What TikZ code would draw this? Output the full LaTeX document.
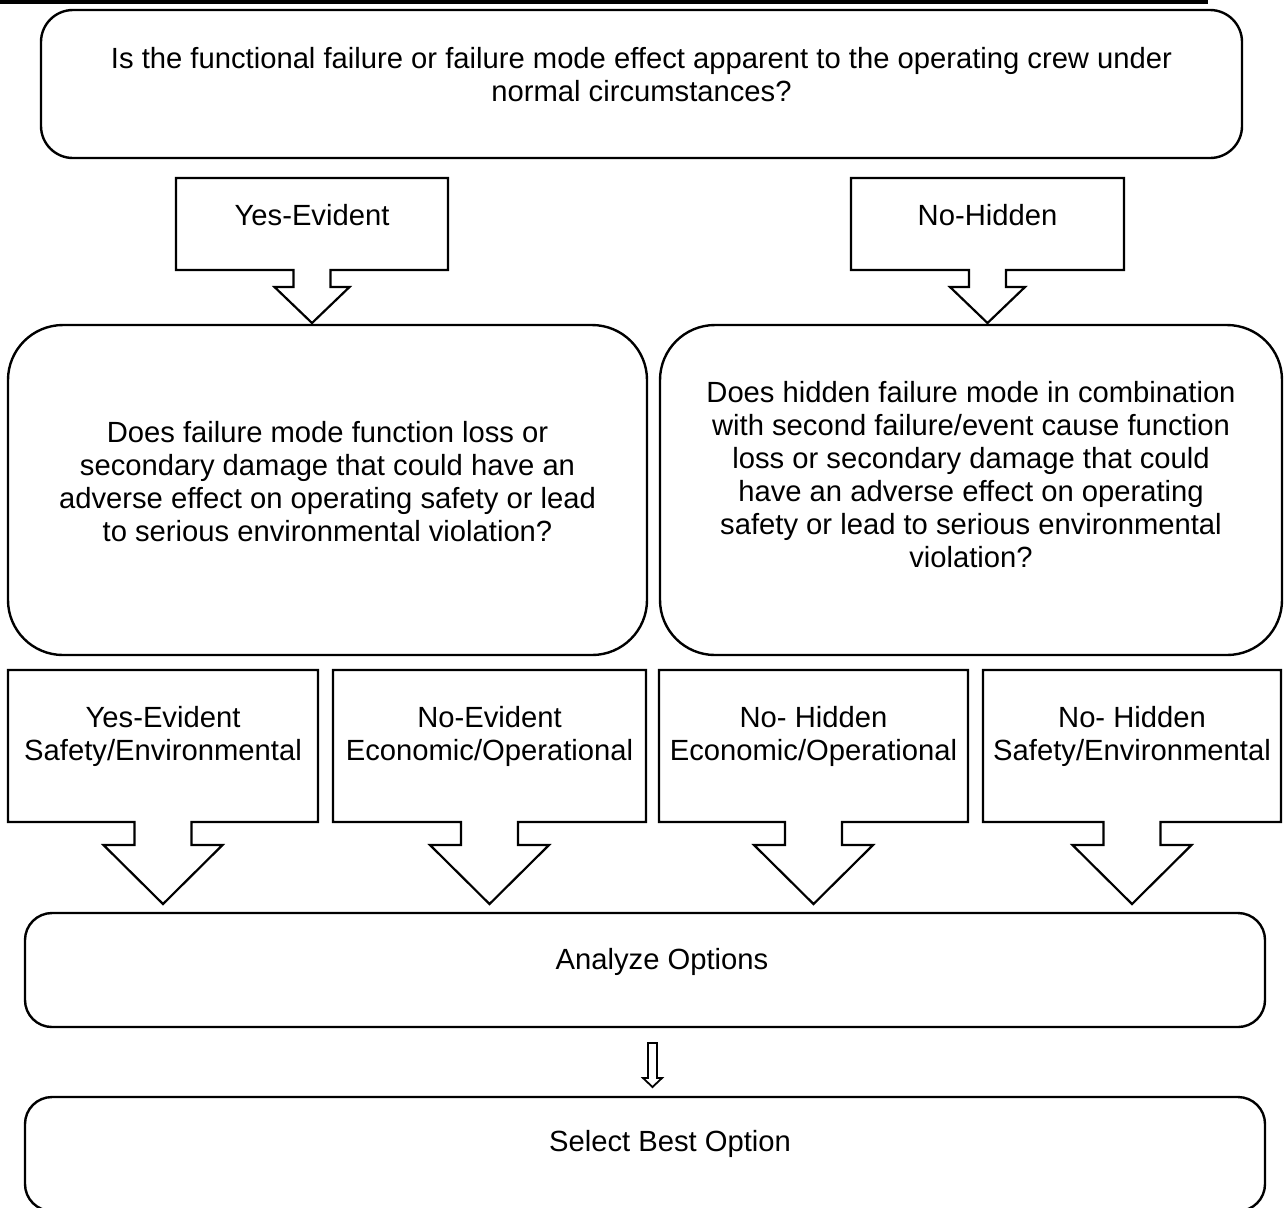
\documentclass[tikz,border=0pt]{standalone}
\usepackage{fontspec}
\setmainfont{Liberation Sans}
\usetikzlibrary{positioning}
\tikzset{
  rbox/.style={draw,line width=1.2pt,rounded corners=#1,inner sep=0pt,outer sep=0pt},
  cbox/.style={inner sep=0pt,outer sep=0pt},
  outl/.style={line width=1.1pt,line join=miter},
  txt/.style={align=center,font=\fontsize{14.6}{16.5}\selectfont,inner sep=0pt},
}
% box with a hollow block arrow under it: node, stem half, stem length, head half, head length
\newcommand{\calloutarrow}[5]{%
  \draw[outl] (#1.south west) -- (#1.north west) -- (#1.north east) -- (#1.south east)
    -- ([shift={(#2,0)}]#1.south) -- ([shift={(#2,#3)}]#1.south) -- ([shift={(#4,#3)}]#1.south)
    -- ([shift={(0,#3+#5)}]#1.south) -- ([shift={(-#4,#3)}]#1.south) -- ([shift={(-#2,#3)}]#1.south)
    -- ([shift={(-#2,0)}]#1.south) -- cycle;}
\begin{document}
\begin{tikzpicture}[x=0.5pt,y=-0.5pt]
\useasboundingbox (0,0) rectangle (1288,1207);
\fill (0,0) rectangle (1208,4);

% question on visibility
\node[rbox=16pt,minimum width=600.5pt,minimum height=74pt] (q1) at (641.5,84) {};
\node[txt] (q1t) at ([shift={(0,-9)}]q1.center) {Is the functional failure or failure mode effect apparent to the operating crew under\\normal circumstances?};

% first split
\node[cbox,minimum width=136pt,minimum height=46pt] (ye) at (312,224) {};
\node[cbox,minimum width=136.5pt,minimum height=46pt] (nh) at (987.5,224) {};
\calloutarrow{ye}{18.5}{17}{37.5}{36}
\calloutarrow{nh}{18.5}{17}{37.5}{36}
\node[txt] (yet) at ([shift={(0,-9)}]ye.center) {Yes-Evident};
\node[txt] (nht) at ([shift={(0,-9)}]nh.center) {No-Hidden};

% consequence questions
\node[rbox=27.5pt,minimum width=319.5pt,minimum height=165pt] (q2) at (327.5,490) {};
\node[rbox=27.5pt,minimum width=311pt,minimum height=165pt] (q3) at (971,490) {};
\node[txt] (q2t) at ([shift={(0,-8)}]q2.center) {Does failure mode function loss or\\secondary damage that could have an\\adverse effect on operating safety or lead\\to serious environmental violation?};
\node[txt] (q3t) at ([shift={(0,-15)}]q3.center) {Does hidden failure mode in combination\\with second failure/event cause function\\loss or secondary damage that could\\have an adverse effect on operating\\safety or lead to serious environmental\\violation?};

% four categories
\node[cbox,minimum width=155pt,minimum height=76pt] (c1) at (163,746) {};
\node[cbox,minimum width=156.5pt,minimum height=76pt] (c2) at (489.5,746) {};
\node[cbox,minimum width=154.5pt,minimum height=76pt] (c3) at (813.5,746) {};
\node[cbox,minimum width=149pt,minimum height=76pt] (c4) at (1132,746) {};
\foreach \c in {c1,c2,c3,c4}
  \calloutarrow{\c}{28.5}{23}{59.5}{59};
\node[txt] (c1t) at ([shift={(0,-10)}]c1.center) {Yes-Evident\\Safety/Environmental};
\node[txt] (c2t) at ([shift={(0,-10)}]c2.center) {No-Evident\\Economic/Operational};
\node[txt] (c3t) at ([shift={(0,-10)}]c3.center) {No- Hidden\\Economic/Operational};
\node[txt] (c4t) at ([shift={(0,-10)}]c4.center) {No- Hidden\\Safety/Environmental};

% options
\node[rbox=13.5pt,minimum width=620pt,minimum height=57pt] (ana) at (645,970) {};
\node[txt] (anat) at ([shift={(17,-8)}]ana.center) {Analyze Options};
\node[rbox=13.5pt,minimum width=620pt,minimum height=57pt] (sel) at (645,1154) {};
\node[txt] (selt) at ([shift={(25,-10)}]sel.center) {Select Best Option};
\coordinate (sa) at ([shift={(7.5,16)}]ana.south);
\draw[line width=0.9pt] (sa) ++(-4.5,0) -- ++(0,35) -- ++(-5,0) -- ++(9.5,9) -- ++(9.5,-9) -- ++(-5,0) -- ++(0,-35) -- cycle;
\end{tikzpicture}
\end{document}
